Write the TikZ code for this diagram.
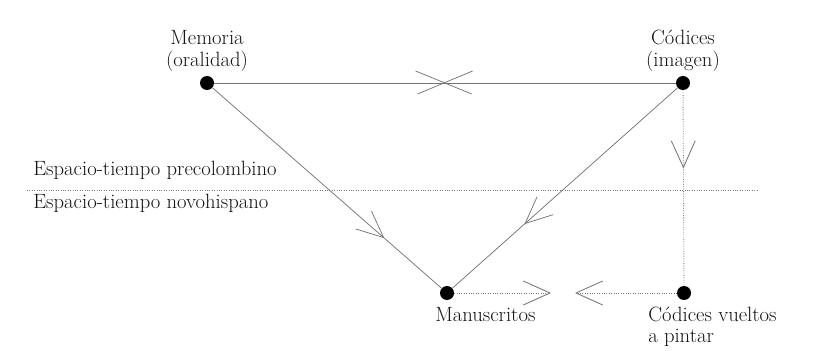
\documentclass[tikz,border=0pt]{standalone}
\usepackage{tikz}
\usetikzlibrary{
  arrows.meta,
  positioning,
  calc,
  decorations.markings
}
\definecolor{inkgray}{RGB}{115,115,115}
\definecolor{dotgray}{RGB}{120,120,120}
\definecolor{textgray}{RGB}{20,20,20}
\tikzset{
  px/.style={x=0.75pt, y=0.75pt},
  spot/.style={
    circle, fill=black, inner sep=0pt, minimum size=10.5pt
  },
  tag/.style={
    font=\fontsize{15.5}{16}\selectfont, text=textgray, inner sep=0pt
  },
  link/.style={line width=0.55pt, color=inkgray},
  dotlink/.style={line width=0.65pt, color=dotgray, dash pattern=on 0.6pt off 1.2pt},
  barb/.style={-{Straight Barb[length=20pt, width=18pt]}},
  midbarb/.style={
    postaction={decorate},
    decoration={markings,
      mark=at position #1 with {\arrow{Straight Barb[length=20pt, width=18pt]}}}
  }
}
\begin{document}
\begin{tikzpicture}[px]
  \useasboundingbox (0,0) rectangle (814,350);

  \node[spot] (mem)  at (207,267) {};
  \node[spot] (cod)  at (683,267) {};
  \node[spot] (manu) at (447,57)  {};
  \node[spot] (vuel) at (684,57)  {};

  \node[tag, align=center, above=3pt of mem] (memL) {Memoria\\(oralidad)};
  \node[tag, align=center, above=3pt of cod] (codL) {C\'odices\\(imagen)};
  \node[tag, anchor=north west] (manuL) at ([xshift=-9pt, yshift=-5pt]manu.south) {Manuscritos};
  \node[tag, align=left, anchor=north west] (vuelL) at ([xshift=-27pt, yshift=-5pt]vuel.south) {C\'odices vueltos\\a pintar};

  \coordinate (divW) at (27,160);
  \coordinate (divE) at (757,160);
  \node[tag, anchor=base west] (pre)  at (33,174) {Espacio-tiempo precolombino};
  \node[tag, anchor=base west] (novo) at (33,141) {Espacio-tiempo novohispano};

  \coordinate (manuE) at (551,57);
  \coordinate (vuelW) at (575,57);

  \draw[link] (mem) -- coordinate[pos=0.497] (cut) (cod);
  \draw[link] ($(cut)+(-28,12)$) -- ($(cut)+(28,-11)$);
  \draw[link] ($(cut)+(-26,-11)$) -- ($(cut)+(29,12)$);
  \draw[link, midbarb=0.75] (mem) -- (manu);
  \draw[link, midbarb=0.68] (cod) -- (manu);
  \draw[dotlink, midbarb=0.40] (cod) -- (vuel);
  \draw[dotlink] (divW) -- (divE);
  \draw[dotlink, barb] (manu) -- (manuE);
  \draw[dotlink, barb] (vuel) -- (vuelW);
\end{tikzpicture}
\end{document}
